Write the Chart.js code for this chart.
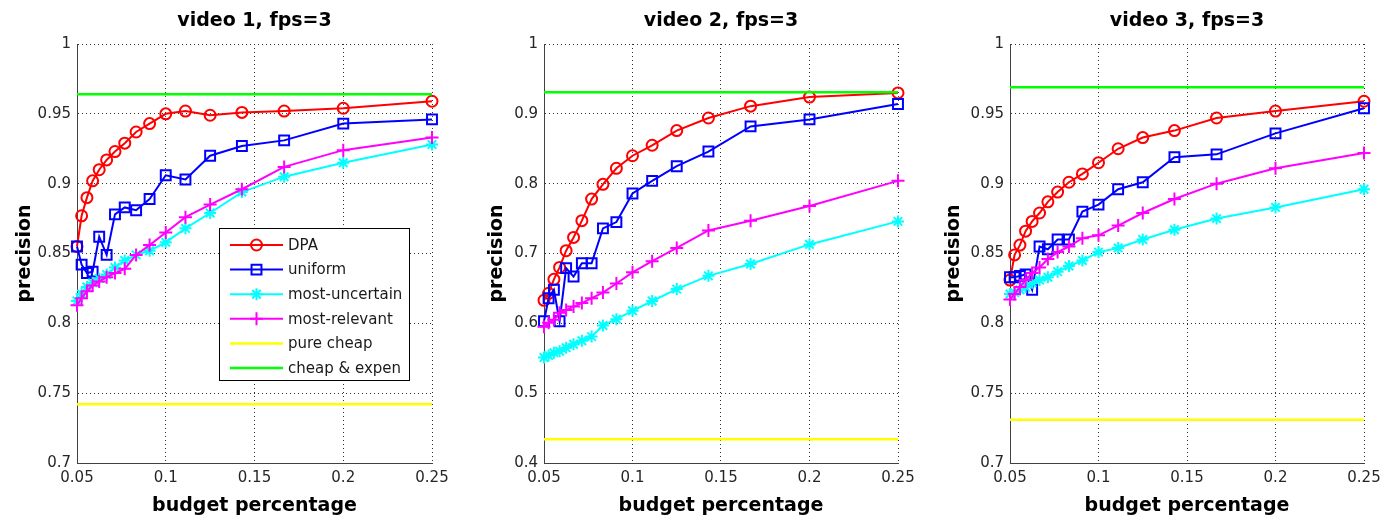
<!DOCTYPE html>
<html lang="en">

<head>
    <meta charset="UTF-8">
    <title>precision vs budget percentage</title>
    <script src="https://cdn.jsdelivr.net/npm/chart.js"></script>
    <style>
        body { margin: 0; background: #fff; }
        canvas { position: absolute; top: 0; }
    </style>
</head>

<body>

    <canvas id="chart1" width="465" height="516" style="left:0px"></canvas>
    <canvas id="chart2" width="465" height="516" style="left:465px"></canvas>
    <canvas id="chart3" width="463" height="516" style="left:930px"></canvas>
    <script>

        // budget = 1/20 ... 1/4
        let budget = [0.05, 0.0526, 0.0556, 0.0588, 0.0625, 0.0667, 0.0714, 0.0769, 0.0833, 0.0909, 0.1, 0.1111, 0.125, 0.1429, 0.1667, 0.2, 0.25];

        let titles = ['video 1, fps=3', 'video 2, fps=3', 'video 3, fps=3'];
        let seriesNames = ['DPA', 'uniform', 'most-uncertain', 'most-relevant', 'pure cheap', 'cheap & expen'];

        // video 1
        let dpa1 = [0.855, 0.877, 0.890, 0.902, 0.910, 0.917, 0.923, 0.929, 0.937, 0.943, 0.950, 0.952, 0.949, 0.951, 0.952, 0.954, 0.959];
        let uniform1 = [0.855, 0.842, 0.836, 0.837, 0.862, 0.849, 0.878, 0.883, 0.881, 0.889, 0.906, 0.903, 0.920, 0.927, 0.931, 0.943, 0.946];
        let uncertain1 = [0.816, 0.821, 0.826, 0.829, 0.832, 0.835, 0.840, 0.845, 0.849, 0.852, 0.858, 0.868, 0.879, 0.894, 0.905, 0.915, 0.928];
        let relevant1 = [0.813, 0.818, 0.823, 0.827, 0.830, 0.833, 0.836, 0.839, 0.849, 0.856, 0.865, 0.876, 0.885, 0.896, 0.912, 0.924, 0.933];

        // video 2
        let dpa2 = [0.633, 0.643, 0.663, 0.680, 0.704, 0.723, 0.747, 0.778, 0.799, 0.822, 0.840, 0.855, 0.876, 0.894, 0.911, 0.924, 0.930];
        let uniform2 = [0.603, 0.636, 0.648, 0.603, 0.679, 0.667, 0.686, 0.686, 0.736, 0.745, 0.786, 0.804, 0.825, 0.846, 0.882, 0.892, 0.914];
        let uncertain2 = [0.551, 0.554, 0.558, 0.560, 0.565, 0.570, 0.575, 0.581, 0.597, 0.606, 0.618, 0.632, 0.649, 0.668, 0.685, 0.713, 0.746];
        let relevant2 = [0.595, 0.601, 0.605, 0.615, 0.619, 0.624, 0.629, 0.636, 0.644, 0.657, 0.673, 0.689, 0.708, 0.733, 0.747, 0.768, 0.804];

        // video 3
        let dpa3 = [0.831, 0.849, 0.856, 0.866, 0.873, 0.879, 0.887, 0.894, 0.901, 0.907, 0.915, 0.925, 0.933, 0.938, 0.947, 0.952, 0.959];
        let uniform3 = [0.833, 0.833, 0.834, 0.835, 0.824, 0.855, 0.853, 0.860, 0.860, 0.880, 0.885, 0.896, 0.901, 0.919, 0.921, 0.936, 0.954];
        let uncertain3 = [0.821, 0.822, 0.824, 0.826, 0.829, 0.831, 0.833, 0.837, 0.841, 0.845, 0.851, 0.854, 0.860, 0.867, 0.875, 0.883, 0.896];
        let relevant3 = [0.817, 0.821, 0.826, 0.831, 0.836, 0.840, 0.846, 0.851, 0.855, 0.861, 0.863, 0.870, 0.879, 0.889, 0.900, 0.911, 0.922];

        // flat reference lines, one value per video
        let pureCheap = [0.742, 0.434, 0.731];
        let cheapExpen = [0.964, 0.931, 0.969];

        // tick labels
        let xTicks = [0.05, 0.1, 0.15, 0.2, 0.25];
        let yTicks1 = [0.7, 0.75, 0.8, 0.85, 0.9, 0.95, 1];
        let yTicks2 = [0.4, 0.5, 0.6, 0.7, 0.8, 0.9, 1];
        let yTicks3 = [0.7, 0.75, 0.8, 0.85, 0.9, 0.95, 1];

        let colors = ['#ff0000', '#0000ff', '#00ffff', '#ff00ff', '#ffff00', '#00ff00'];
        let markers = ['circle', 'rect', 'star', 'cross', false, false];
        let markerSize = [5.5, 7, 6, 6.5, 0, 0];
        let lineWidths = [2, 2, 2, 2, 2.5, 2.5];

        function toPoints(values) {
            return budget.map((b, i) => ({ x: b, y: values[i] }));
        }

        function flat(v) {
            return [{ x: xTicks[0], y: v }, { x: xTicks[xTicks.length - 1], y: v }];
        }

        // draws a marker shape for the legend box
        function drawMarker(ctx, style, x, y, r) {
            ctx.beginPath();
            if (style == 'circle') {
                ctx.arc(x, y, r, 0, Math.PI * 2);
            } else if (style == 'rect') {
                let s = r * Math.SQRT1_2;
                ctx.rect(x - s, y - s, 2 * s, 2 * s);
            } else if (style == 'star' || style == 'cross') {
                ctx.moveTo(x - r, y); ctx.lineTo(x + r, y);
                ctx.moveTo(x, y - r); ctx.lineTo(x, y + r);
                if (style == 'star') {
                    let d = r * Math.SQRT1_2;
                    ctx.moveTo(x - d, y - d); ctx.lineTo(x + d, y + d);
                    ctx.moveTo(x - d, y + d); ctx.lineTo(x + d, y - d);
                }
            }
            ctx.stroke();
        }

        let boxLegend = {
            id: 'boxLegend',
            afterDatasetsDraw(chart) {
                let ctx = chart.ctx;
                let area = chart.chartArea;
                let x0 = area.left + 142, y0 = area.top + 184, w = 190, h = 152;
                ctx.save();
                ctx.fillStyle = '#fff';
                ctx.fillRect(x0, y0, w, h);
                ctx.strokeStyle = '#000';
                ctx.lineWidth = 1;
                ctx.strokeRect(x0 + 0.5, y0 + 0.5, w, h);
                ctx.font = '15px "DejaVu Sans"';
                ctx.textBaseline = 'middle';
                seriesNames.forEach((name, i) => {
                    let y = y0 + 17 + i * 24.6;
                    ctx.strokeStyle = colors[i];
                    ctx.lineWidth = lineWidths[i];
                    ctx.beginPath();
                    ctx.moveTo(x0 + 11, y);
                    ctx.lineTo(x0 + 64, y);
                    ctx.stroke();
                    if (markers[i]) {
                        ctx.lineWidth = 2;
                        drawMarker(ctx, markers[i], x0 + 37.5, y, markerSize[i]);
                    }
                    ctx.fillStyle = '#1a1a1a';
                    ctx.fillText(name, x0 + 69, y + 1);
                });
                ctx.restore();
            }
        };

        function makeChart(id, idx, lines, yTicks, axisWidth, titlePad, padRight, withLegend) {
            let values = lines.concat([pureCheap[idx], cheapExpen[idx]]);
            let datasets = values.map((v, i) => ({
                label: seriesNames[i],
                data: i < 4 ? toPoints(v) : flat(v),
                borderColor: colors[i],
                backgroundColor: colors[i],
                borderWidth: lineWidths[i],
                pointStyle: markers[i],
                pointRadius: markerSize[i],
                pointBorderWidth: 2,
                pointBorderColor: colors[i],
                pointBackgroundColor: 'rgba(0,0,0,0)',
                tension: 0,
                clip: false,
                order: 10 - i
            }));

            let tickFont = { family: 'DejaVu Sans', size: 15 };
            let labelFont = { family: 'DejaVu Sans', size: 19, weight: 'bold', lineHeight: 1 };

            return new Chart(document.getElementById(id).getContext('2d'), {
                type: 'line',
                data: { datasets: datasets },
                options: {
                    responsive: false,
                    animation: false,
                    layout: { padding: { left: 0, right: padRight, top: 0, bottom: 0 } },
                    plugins: {
                        legend: { display: false },
                        tooltip: { enabled: false },
                        title: {
                            display: true,
                            text: titles[idx],
                            fullSize: false,
                            color: '#000',
                            font: { family: 'DejaVu Sans', size: 19, weight: 'bold', lineHeight: 1.2 },
                            padding: { top: 10, bottom: 11.2 }
                        }
                    },
                    scales: {
                        x: {
                            type: 'linear',
                            min: xTicks[0],
                            max: xTicks[xTicks.length - 1],
                            afterBuildTicks: s => { s.ticks = xTicks.map(v => ({ value: v })); },
                            afterFit: s => { s.height = 53; },
                            ticks: { callback: v => String(v), font: tickFont, color: '#262626', padding: 6, maxRotation: 0, autoSkip: false },
                            grid: { color: '#333', drawTicks: false },
                            border: { display: true, color: '#404040', width: 1, dash: [1, 3] },
                            title: { display: true, text: 'budget percentage', color: '#000', font: labelFont, padding: 0 }
                        },
                        y: {
                            type: 'linear',
                            min: yTicks[0],
                            max: yTicks[yTicks.length - 1],
                            afterBuildTicks: s => { s.ticks = yTicks.map(v => ({ value: v })); },
                            afterFit: s => { s.width = axisWidth; },
                            ticks: { callback: v => String(v), font: tickFont, color: '#262626', padding: 6, autoSkip: false },
                            grid: { color: '#333', drawTicks: false },
                            border: { display: true, color: '#404040', width: 1, dash: [1, 3] },
                            title: { display: true, text: 'precision', color: '#000', font: labelFont, padding: { top: titlePad, bottom: 0 } }
                        }
                    }
                },
                plugins: withLegend ? [boxLegend] : []
            });
        }

        makeChart('chart1', 0, [dpa1, uniform1, uncertain1, relevant1], yTicks1, 77, 15.5, 33, true);
        makeChart('chart2', 1, [dpa2, uniform2, uncertain2, relevant2], yTicks2, 79, 22.5, 32, false);
        makeChart('chart3', 2, [dpa3, uniform3, uncertain3, relevant3], yTicks3, 80, 14.5, 29, false);

    </script>

</body>

</html>
